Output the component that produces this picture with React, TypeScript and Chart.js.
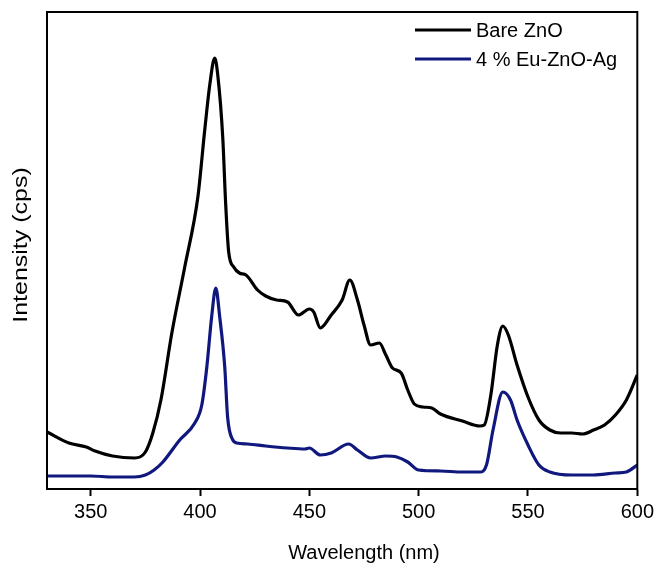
import React, { useEffect, useRef } from "react";
import { Chart, registerables } from "chart.js";

Chart.register(...registerables);

const wavelengths = [330, 340, 348, 352, 360, 370, 375, 378.4, 382.1, 387.1, 393, 399, 402.1, 404.5, 406.7, 408.1, 410.4, 411.7, 413.1, 415.4, 418, 421, 426.3, 430, 435, 440, 445, 450, 452, 455, 460, 465, 468.5, 472, 475, 478, 482, 485, 488, 492, 495, 498, 502, 506, 510, 520, 528, 530, 533, 536, 538.5, 541, 545, 550, 555, 560, 565, 570, 575, 580, 585, 590, 595, 600];
const bareZnO = [57, 46, 42, 38, 33, 31, 37, 56, 89, 156, 222, 292, 358, 405, 431, 414, 351, 286, 237, 222, 216, 214, 199, 193, 189, 187, 174, 180, 177, 161, 174, 189, 209, 189, 164, 144, 146, 134, 121, 116, 99, 85, 82, 81, 75, 68, 63, 64, 94, 144, 163, 154, 124, 92, 69, 59, 56, 56, 55, 59, 64, 74, 89, 114];

const blueWavelengths = [330, 340, 350, 360, 370, 375, 379, 383, 390.7, 397.6, 400.8, 403.1, 405.3, 407.2, 409, 411.3, 412.6, 415, 416.8, 421.8, 430, 440, 448, 450, 455, 460, 468, 472, 478, 485, 490, 495, 500, 510, 520, 528, 531, 534, 538.5, 542, 545, 550, 555, 560, 570, 580, 590, 595, 600];
const euZnOAg = [13, 13, 13, 12, 12, 14, 19, 27, 49, 66, 84, 122, 172, 201, 172, 122, 72, 49, 46, 45, 43, 41, 40, 41, 34, 36, 45, 39, 31, 33, 32, 27, 19, 18, 17, 17, 24, 59, 97, 89, 69, 44, 24, 17, 14, 14, 16, 17, 24];

const xTicks = [350, 400, 450, 500, 550, 600];
const seriesNames = ["Bare ZnO", "4 % Eu-ZnO-Ag"];
const seriesColors = ["#000000", "#10187e"];
const xTitle = "Wavelength (nm)";
const yTitle = "Intensity (cps)";

const FONT = "'Liberation Sans', Arial, sans-serif";

export default function App() {
  const ref = useRef<HTMLCanvasElement>(null);

  useEffect(() => {
    const canvas = ref.current!;
    const framePlugin = {
      id: "frame",
      afterDraw(chart: any) {
        const { ctx, chartArea } = chart;
        ctx.save();
        ctx.strokeStyle = "#000";
        ctx.lineWidth = 2;
        ctx.strokeRect(chartArea.left, chartArea.top, chartArea.right - chartArea.left, chartArea.bottom - chartArea.top);
        // legend
        const lx0 = 415, lx1 = 471;
        const ys = [30, 59];
        ctx.font = "20px " + FONT;
        ctx.textBaseline = "middle";
        ctx.textAlign = "left";
        seriesNames.forEach((name, i) => {
          ctx.strokeStyle = seriesColors[i];
          ctx.lineWidth = 3;
          ctx.beginPath();
          ctx.moveTo(lx0, ys[i]);
          ctx.lineTo(lx1, ys[i]);
          ctx.stroke();
          ctx.fillStyle = "#000";
          ctx.fillText(name, 476, ys[i] + 1);
        });
        // axis titles
        ctx.fillStyle = "#000";
        ctx.textAlign = "center";
        ctx.textBaseline = "middle";
        ctx.fillText(xTitle, 364, 553);
        ctx.save();
        ctx.translate(21, 245);
        ctx.rotate(-Math.PI / 2);
        ctx.scale(1.25, 1);
        ctx.fillText(yTitle, 0, 0);
        ctx.restore();
        ctx.restore();
      },
    };

    const chart = new Chart(canvas, {
      type: "line",
      data: {
        datasets: [
          {
            label: seriesNames[0],
            data: wavelengths.map((x, i) => ({ x, y: bareZnO[i] })),
            borderColor: seriesColors[0],
            borderWidth: 3.2,
            pointRadius: 0,
            cubicInterpolationMode: "monotone",
          },
          {
            label: seriesNames[1],
            data: blueWavelengths.map((x, i) => ({ x, y: euZnOAg[i] })),
            borderColor: seriesColors[1],
            borderWidth: 3.2,
            pointRadius: 0,
            cubicInterpolationMode: "monotone",
          },
        ],
      },
      options: {
        animation: false,
        responsive: false,
        maintainAspectRatio: false,
        layout: { padding: { top: 12, right: 19, left: 0, bottom: 0 } },
        plugins: { legend: { display: false }, tooltip: { enabled: false } },
        scales: {
          x: {
            type: "linear",
            min: 330,
            max: 600,
            afterBuildTicks: (s: any) => {
              s.ticks = xTicks.map((v) => ({ value: v }));
            },
            afterFit: (s: any) => {
              s.height = 74;
            },
            border: { color: "#000", width: 2 },
            grid: { drawOnChartArea: false, drawTicks: true, tickLength: 7, color: "#000", tickWidth: 2 },
            ticks: { color: "#000", font: { family: FONT, size: 20 }, padding: 4, maxRotation: 0 },
            title: { display: false },
          },
          y: {
            min: 0,
            max: 477,
            afterFit: (s: any) => {
              s.width = 47;
            },
            border: { color: "#000", width: 2 },
            grid: { display: false },
            ticks: { display: false },
            title: { display: false },
          },
        },
      },
      plugins: [framePlugin],
    } as any);
    return () => chart.destroy();
  }, []);

  return (
    <div style={{ position: "fixed", left: 0, top: 0, width: 658, height: 563, background: "#fff" }}>
      <canvas ref={ref} width={658} height={563} style={{ width: 658, height: 563, display: "block" }} />
    </div>
  );
}
